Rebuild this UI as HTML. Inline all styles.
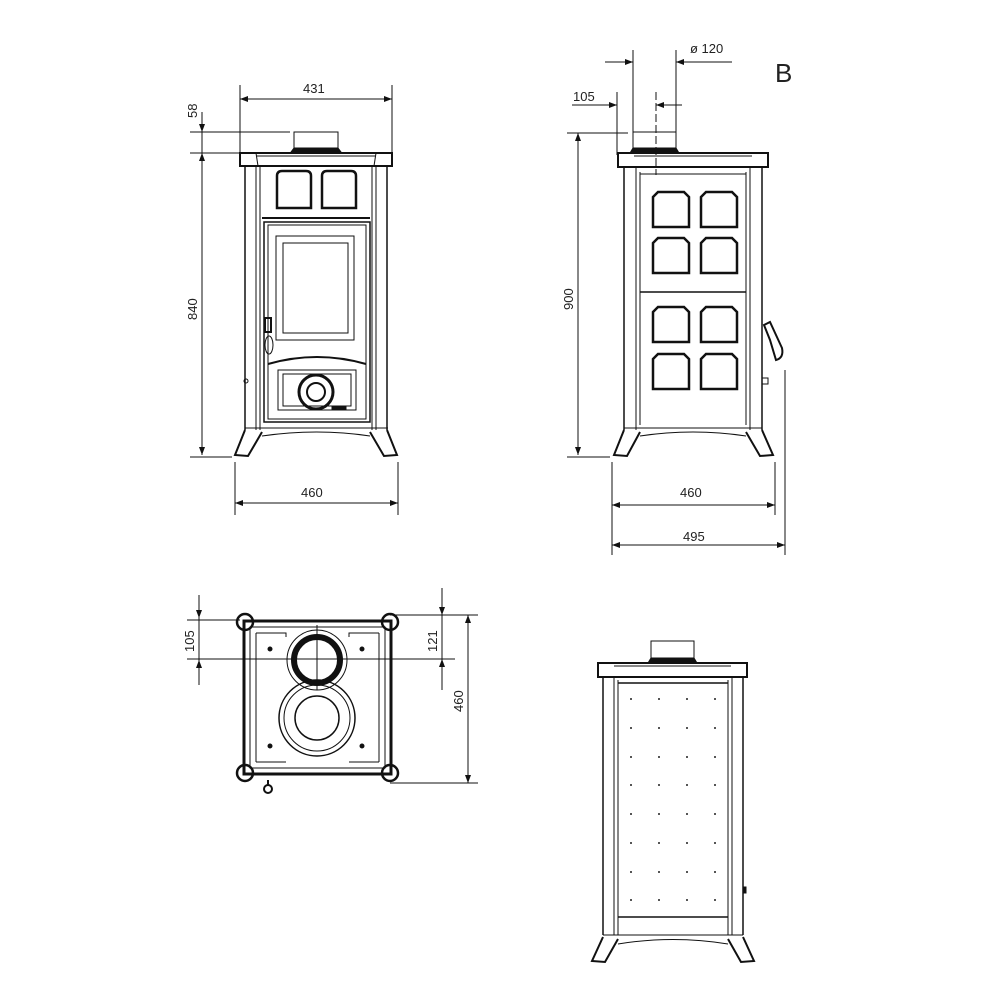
<!DOCTYPE html>
<html><head><meta charset="utf-8"><style>
html,body{margin:0;padding:0;background:#fff}
svg{display:block}
text{font-family:"Liberation Sans",sans-serif;font-size:13px;fill:#222}
</style></head><body>
<svg width="1000" height="1000" viewBox="0 0 1000 1000" xmlns="http://www.w3.org/2000/svg">
<defs>
<marker id="a" markerWidth="8" markerHeight="6" refX="8" refY="3" orient="auto-start-reverse"><path d="M0,0 L8,3 L0,6z" fill="#111"/></marker>
</defs>
<g stroke="#111" fill="none" stroke-width="1">
<!-- ===== FRONT VIEW ===== -->
<!-- dims -->
<line x1="240" y1="85" x2="240" y2="152"/><line x1="392" y1="85" x2="392" y2="152"/>
<line x1="240" y1="99" x2="392" y2="99" marker-start="url(#a)" marker-end="url(#a)"/>
<line x1="190" y1="132" x2="290" y2="132"/><line x1="190" y1="153" x2="240" y2="153"/>
<line x1="202" y1="112" x2="202" y2="132" marker-end="url(#a)"/>
<line x1="202" y1="132" x2="202" y2="153"/>
<line x1="202" y1="153" x2="202" y2="455" marker-start="url(#a)" marker-end="url(#a)"/>
<line x1="190" y1="457" x2="232" y2="457"/>
<line x1="235" y1="462" x2="235" y2="515"/><line x1="398" y1="462" x2="398" y2="515"/>
<line x1="235" y1="503" x2="398" y2="503" marker-start="url(#a)" marker-end="url(#a)"/>
<!-- flue -->
<rect x="294" y="132" width="44" height="19"/>
<path d="M291,152 L294,148 L338,148 L341,152z" fill="#111"/>
<!-- top plate -->
<rect x="240" y="153" width="152" height="13" stroke-width="2"/>
<line x1="256" y1="156" x2="376" y2="156"/>
<line x1="256" y1="153" x2="258" y2="166"/><line x1="376" y1="153" x2="374" y2="166"/>
<!-- columns -->
<line x1="245" y1="166" x2="245" y2="430" stroke-width="1.5"/>
<line x1="256" y1="166" x2="256" y2="430"/>
<line x1="260" y1="166" x2="260" y2="430"/>
<line x1="387" y1="166" x2="387" y2="430" stroke-width="1.5"/>
<line x1="376" y1="166" x2="376" y2="430"/>
<line x1="372" y1="166" x2="372" y2="430"/>
<!-- upper tiles -->
<path d="M277,176 q0,-5 5,-5 h24 q5,0 5,5 v32 h-34z" stroke-width="2.5"/>
<path d="M322,176 q0,-5 5,-5 h24 q5,0 5,5 v32 h-34z" stroke-width="2.5"/>
<line x1="262" y1="218" x2="370" y2="218" stroke-width="2"/>
<!-- door -->
<rect x="264" y="222" width="106" height="200" stroke-width="1.5"/>
<rect x="268" y="225" width="98" height="194"/>
<path d="M276,236 L354,236 L354,340 L276,340z"/>
<rect x="283" y="243" width="65" height="90"/>
<path d="M268,364 Q317,350 366,364" stroke-width="2"/>
<rect x="278" y="370" width="78" height="40"/>
<rect x="283" y="374" width="68" height="32"/>
<circle cx="316" cy="392" r="17" stroke-width="3"/>
<circle cx="316" cy="392" r="9" stroke-width="2"/>
<rect x="332" y="407" width="14" height="3" fill="#111"/>
<path d="M265,318 h6 v14 h-6z" stroke-width="2"/>
<ellipse cx="269" cy="345" rx="4" ry="9"/>
<circle cx="246" cy="381" r="2"/>
<!-- feet -->
<path d="M245,428 L388,428 M262,428 L370,428"/>
<path d="M245,430 L235,455 L248,456 L262,432" stroke-width="2"/>
<path d="M387,430 L397,455 L384,456 L370,432" stroke-width="2"/>
<path d="M262,436 Q317,428 370,436"/>

<!-- ===== SIDE VIEW ===== -->
<line x1="633" y1="50" x2="633" y2="152"/><line x1="676" y1="50" x2="676" y2="152"/>
<line x1="605" y1="62" x2="633" y2="62" marker-end="url(#a)"/>
<line x1="732" y1="62" x2="676" y2="62" marker-end="url(#a)"/>
<line x1="617" y1="92" x2="617" y2="155"/>
<line x1="572" y1="105" x2="617" y2="105" marker-end="url(#a)"/>
<line x1="682" y1="105" x2="656" y2="105" marker-end="url(#a)"/>
<line x1="656" y1="92" x2="656" y2="175" stroke-dasharray="8,3"/>
<line x1="567" y1="133" x2="628" y2="133"/>
<line x1="578" y1="133" x2="578" y2="455" marker-start="url(#a)" marker-end="url(#a)"/>
<line x1="567" y1="457" x2="610" y2="457"/>
<line x1="612" y1="462" x2="612" y2="555"/><line x1="775" y1="462" x2="775" y2="515"/>
<line x1="785" y1="370" x2="785" y2="555"/>
<line x1="612" y1="505" x2="775" y2="505" marker-start="url(#a)" marker-end="url(#a)"/>
<line x1="612" y1="545" x2="785" y2="545" marker-start="url(#a)" marker-end="url(#a)"/>
<rect x="633" y="132" width="43" height="19"/>
<path d="M630,153 L633,148 L676,148 L679,153z" fill="#111"/>
<rect x="618" y="153" width="150" height="14" stroke-width="2"/>
<line x1="634" y1="156" x2="752" y2="156"/>
<line x1="624" y1="167" x2="624" y2="430" stroke-width="1.5"/>
<line x1="636" y1="167" x2="636" y2="430"/>
<line x1="640" y1="172" x2="640" y2="425"/>
<line x1="762" y1="167" x2="762" y2="430" stroke-width="1.5"/>
<line x1="750" y1="167" x2="750" y2="430"/>
<line x1="746" y1="172" x2="746" y2="425"/>
<line x1="640" y1="174" x2="746" y2="174"/>
<line x1="640" y1="292" x2="746" y2="292" stroke-width="1.5"/>
<g stroke-width="2.5">
<path d="M653,197 l5,-5 h26 l5,5 v30 h-36z"/><path d="M701,197 l5,-5 h26 l5,5 v30 h-36z"/>
<path d="M653,243 l5,-5 h26 l5,5 v30 h-36z"/><path d="M701,243 l5,-5 h26 l5,5 v30 h-36z"/>
<path d="M653,312 l5,-5 h26 l5,5 v30 h-36z"/><path d="M701,312 l5,-5 h26 l5,5 v30 h-36z"/>
<path d="M653,359 l5,-5 h26 l5,5 v30 h-36z"/><path d="M701,359 l5,-5 h26 l5,5 v30 h-36z"/>
</g>
<path d="M764,325 L770,322 L782,348 Q784,358 776,360 L770,340z" stroke-width="2"/>
<rect x="762" y="378" width="6" height="6"/>
<path d="M624,428 L762,428"/>
<path d="M624,430 L614,455 L627,456 L640,432" stroke-width="2"/>
<path d="M762,430 L773,455 L760,456 L746,432" stroke-width="2"/>
<path d="M640,436 Q693,428 746,436"/>

<!-- ===== TOP VIEW ===== -->
<line x1="199" y1="595" x2="199" y2="618" marker-end="url(#a)"/>
<line x1="199" y1="618" x2="199" y2="660"/>
<line x1="199" y1="685" x2="199" y2="660" marker-end="url(#a)"/>
<line x1="187" y1="620" x2="240" y2="620"/>
<line x1="187" y1="659" x2="455" y2="659"/>
<line x1="442" y1="588" x2="442" y2="615" marker-end="url(#a)"/>
<line x1="442" y1="615" x2="442" y2="659"/>
<line x1="442" y1="690" x2="442" y2="659" marker-end="url(#a)"/>
<line x1="390" y1="615" x2="478" y2="615"/>
<line x1="390" y1="783" x2="478" y2="783"/>
<line x1="468" y1="615" x2="468" y2="783" marker-start="url(#a)" marker-end="url(#a)"/>
<path d="M244,621 L391,621 L391,774 L244,774z" stroke-width="3"/>
<path d="M250,627 L385,627 L385,768 L250,768z"/>
<path d="M256,633 h30 v4 M379,633 h-30 v4 M256,762 h30 M379,762 h-30" />
<path d="M256,633 L256,762 M379,633 L379,762"/>
<circle cx="245" cy="622" r="8" stroke-width="2.5"/><circle cx="390" cy="622" r="8" stroke-width="2.5"/>
<circle cx="245" cy="773" r="8" stroke-width="2.5"/><circle cx="390" cy="773" r="8" stroke-width="2.5"/>
<circle cx="317" cy="660" r="23" stroke-width="6"/>
<circle cx="317" cy="660" r="30"/>
<circle cx="317" cy="718" r="38" stroke-width="1.5"/>
<circle cx="317" cy="718" r="33"/>
<circle cx="317" cy="718" r="22" stroke-width="1.5"/>
<line x1="317" y1="625" x2="317" y2="690"/>
<circle cx="270" cy="649" r="2" fill="#111"/><circle cx="362" cy="649" r="2" fill="#111"/>
<circle cx="270" cy="746" r="2" fill="#111"/><circle cx="362" cy="746" r="2" fill="#111"/>
<circle cx="268" cy="789" r="4" stroke-width="2"/><line x1="268" y1="780" x2="268" y2="785" stroke-width="2"/>

<!-- ===== BACK VIEW ===== -->
<rect x="651" y="641" width="43" height="19"/>
<path d="M648,663 L651,658 L694,658 L697,663z" fill="#111"/>
<rect x="598" y="663" width="149" height="14" stroke-width="2"/>
<line x1="614" y1="666" x2="731" y2="666"/>
<line x1="603" y1="677" x2="603" y2="935" stroke-width="1.5"/>
<line x1="614" y1="677" x2="614" y2="935"/>
<line x1="618" y1="680" x2="618" y2="935"/>
<line x1="743" y1="677" x2="743" y2="935" stroke-width="1.5"/>
<line x1="732" y1="677" x2="732" y2="935"/>
<line x1="728" y1="680" x2="728" y2="935"/>
<line x1="618" y1="683" x2="728" y2="683" stroke-width="1.5"/>
<line x1="618" y1="917" x2="728" y2="917" stroke-width="1.5"/>
<rect x="743" y="887" width="3" height="6" fill="#111"/>
<path d="M603,935 L743,935"/>
<path d="M603,937 L592,961 L605,962 L618,939" stroke-width="2"/>
<path d="M743,937 L754,961 L741,962 L728,939" stroke-width="2"/>
<path d="M618,944 Q673,935 728,944"/>
</g>
<g fill="#555">
<g id="r"><rect x="630" y="698" width="2" height="2"/><rect x="658" y="698" width="2" height="2"/><rect x="686" y="698" width="2" height="2"/><rect x="714" y="698" width="2" height="2"/></g>
<use href="#r" y="29"/><use href="#r" y="58"/><use href="#r" y="86"/><use href="#r" y="115"/><use href="#r" y="144"/><use href="#r" y="173"/><use href="#r" y="201"/>
</g>
<!-- labels -->
<text x="303" y="93">431</text>
<text x="301" y="497">460</text>
<text x="680" y="497">460</text>
<text x="683" y="541">495</text>
<text x="690" y="53">ø 120</text>
<text x="573" y="101">105</text>
<text x="775" y="82" style="font-size:26px">B</text>
<text transform="translate(197,118) rotate(-90)">58</text>
<text transform="translate(197,320) rotate(-90)">840</text>
<text transform="translate(573,310) rotate(-90)">900</text>
<text transform="translate(194,652) rotate(-90)">105</text>
<text transform="translate(437,652) rotate(-90)">121</text>
<text transform="translate(463,712) rotate(-90)">460</text>
</svg>
</body></html>
